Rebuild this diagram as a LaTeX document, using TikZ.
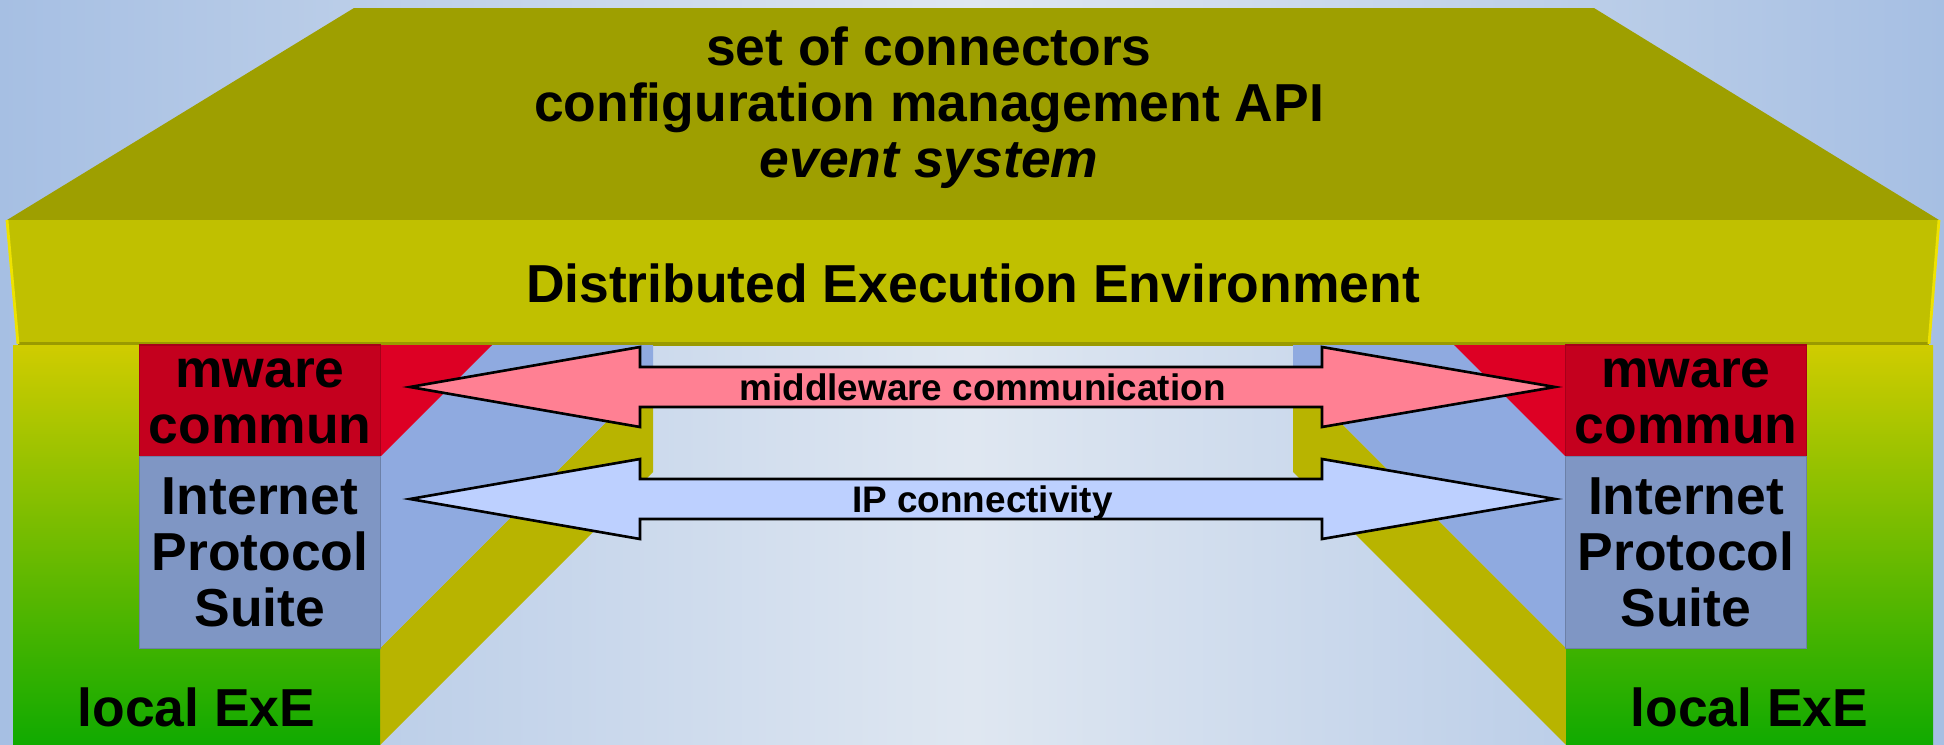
\documentclass[tikz,border=0pt]{standalone}
\usepackage{fontspec}
\setmainfont{Liberation Sans}
\usetikzlibrary{calc}
\definecolor{bgside}{HTML}{A6BFE3}
\definecolor{bgmid}{HTML}{DFE7F1}
\definecolor{roofolive}{HTML}{9E9F00}
\definecolor{deeyellow}{HTML}{C0C000}
\definecolor{mwred}{HTML}{C4001E}
\definecolor{mwside}{HTML}{DD0024}
\definecolor{ipsblue}{HTML}{7F96C4}
\definecolor{ipsside}{HTML}{8FAAE0}
\definecolor{exeside}{HTML}{B8B400}
\definecolor{pillartop}{HTML}{D0CC00}
\definecolor{pillarbot}{HTML}{10AA00}
\definecolor{mwpink}{HTML}{FF8093}
\definecolor{ipblue}{HTML}{BDD0FF}
\begin{document}
\begin{tikzpicture}[x=0.01cm, y=-0.01cm,
  bigtext/.style={font=\bfseries\fontsize{15.2}{15.9}\selectfont, align=center},
  smalltext/.style={font=\bfseries\fontsize{10.5}{12}\selectfont, inner sep=0pt, text depth=0pt},
  layer/.style={inner sep=0pt, minimum width=2.4cm, draw=#1!85!black, fill=#1, line width=0.3pt},
  blockarrow/.style={draw=black, line width=0.75pt, line join=miter}]
\useasboundingbox (0,0) rectangle (1944,745);
\clip (0,0) rectangle (1944,745);
\shade[left color=bgside, right color=bgside, middle color=bgmid] (0,0) rectangle (1944,745);
\fill[roofolive] (354,8) -- (1594,8) -- (1939,220) -- (7,220) -- cycle;
\fill[deeyellow] (7,220) -- (1939,220) -- (1929,344) -- (18,344) -- cycle;
\draw[deeyellow!80!black, line width=1pt] (18,344) -- (1929,344);
\draw[yellow!85!olive, line width=0.8pt] (7,220) -- (18,344) (1939,220) -- (1929,344);
\node[bigtext] (api) at (929,108) {set of connectors\\configuration management API\\\textit{event system}};
\node[bigtext] (dee) at (973,283) {Distributed Execution Environment};
\foreach \xs/\xo/\nm in {1/0/L, -1/1946/R}
{\begin{scope}[shift={(\xo,0)}, xscale=\xs]
  \fill[exeside] (380,648) -- (380,745) -- (653,472) -- (653,375) -- cycle;
  \fill[ipsside] (380,457) -- (380,648) -- (653,375) -- (653,345) -- (492,345) -- cycle;
  \fill[mwside] (380,345) -- (380,457) -- (492,345) -- cycle;
  \shade[top color=pillartop, bottom color=pillarbot] (13,345) rectangle (380,745);
  \node[layer=mwred, minimum height=1.12cm, bigtext] (mware\nm) at (260,401) {mware\\commun};
  \node[layer=ipsblue, minimum height=1.91cm, bigtext] (ips\nm) at (260,552.5) {Internet\\Protocol\\Suite};
  \node[bigtext] (exe\nm) at (196.5,707) {local ExE};
\end{scope}}
\coordinate (mwL) at (410,387);
\coordinate (mwR) at (1555,387);
\coordinate (ipL) at (410,499);
\coordinate (ipR) at (1555,499);
\foreach \a/\b/\c/\t in {mwL/mwR/mwpink/middleware communication, ipL/ipR/ipblue/IP connectivity}
{\filldraw[blockarrow, fill=\c] (\a) -- ++(230,-40) -- ++(0,20) -- ($(\b)+(-233,-20)$) -- ++(0,-20) -- (\b)
    -- ++(-233,40) -- ++(0,-20) -- ($(\a)+(230,20)$) -- ++(0,20) -- cycle;
 \node[smalltext] (lbl\a) at ($(\a)!0.5!(\b)$) {\t};}
\end{tikzpicture}
\end{document}
